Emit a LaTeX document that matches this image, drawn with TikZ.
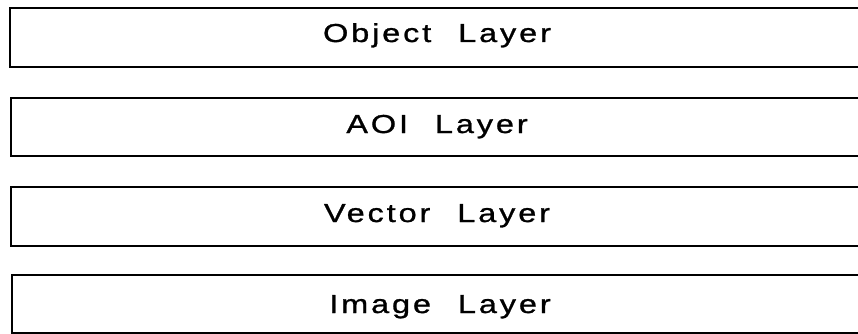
\documentclass[tikz,border=0pt]{standalone}
\usepackage{fontspec}
\newfontfamily\labfont[LetterSpace=11,FakeStretch=1.25,FakeBold=1]{Liberation Sans}
\begin{document}
\begin{tikzpicture}[x=1pt,y=-1pt,
  layerbox/.style={draw=black,line width=1.5pt},
  layerlabel/.style={anchor=base,inner sep=0pt,font=\labfont\fontsize{26}{30}\selectfont}]
\useasboundingbox (0,0) rectangle (858,334);
\begin{scope}
\clip (0,0) rectangle (858,334);
\draw[layerbox] (870,8) -- (10,8) -- (10,67) -- (870,67);
\draw[layerbox] (870,98) -- (11,98) -- (11,156) -- (870,156);
\draw[layerbox] (870,187) -- (11,187) -- (11,246) -- (870,246);
\draw[layerbox] (870,275) -- (12,275) -- (12,333) -- (870,333);
\end{scope}
\node[layerlabel] (obj) at (437,42) {Object\hspace{15pt} Layer};
\node[layerlabel] (aoi) at (437,133) {AOI\hspace{15pt} Layer};
\node[layerlabel] (vec) at (437,222) {Vector\hspace{15pt} Layer};
\node[layerlabel] (img) at (440,313) {Image\hspace{15pt} Layer};
\end{tikzpicture}
\end{document}
